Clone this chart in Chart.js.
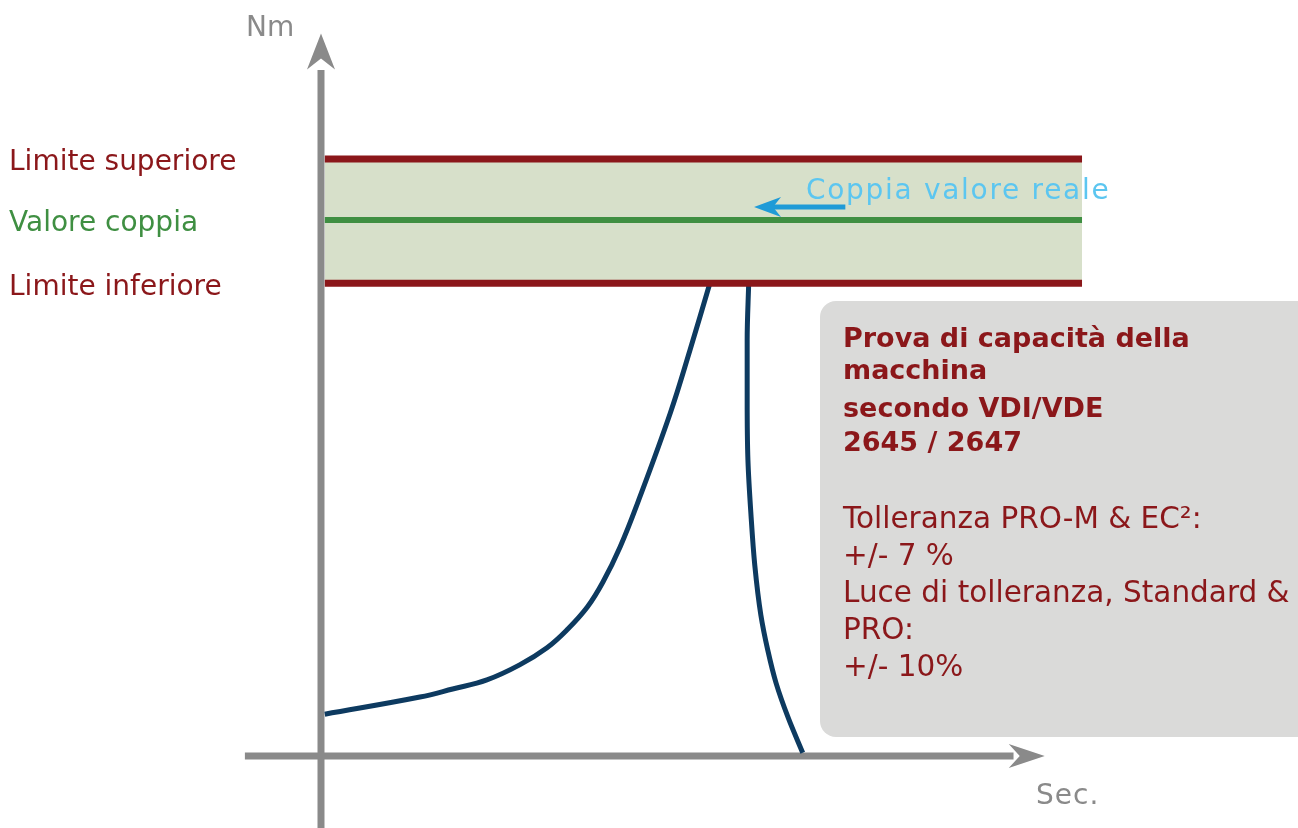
<!DOCTYPE html>
<html>
<head>
<meta charset="utf-8">
<script src="https://cdn.jsdelivr.net/npm/chart.js@4.4.1/dist/chart.umd.min.js"></script>
<style>
  body { margin: 0; background: #ffffff; }
  #wrap { width: 1298px; height: 828px; position: relative; }
</style>
</head>
<body>
<div id="wrap"><canvas id="myChart"></canvas></div>
<script>
// curve: time in sec, torque in Nm
const seconds_up = [0.05, 1.30, 1.73, 2.18, 2.61, 2.97, 3.23, 3.50, 3.71, 3.93, 4.16, 4.59, 4.85, 5.11];
const torque_up  = [7.8, 11.0, 12.5, 14.2, 17.0, 20.2, 23.5, 27.8, 32.6, 39.0, 47.2, 64.0, 75.8, 88.2];
const seconds_down = [5.62, 5.60, 5.60, 5.61, 5.65, 5.70, 5.78, 5.87, 5.98, 6.14, 6.33];
const torque_down  = [88.2, 77.6, 66.4, 55.2, 45.0, 35.6, 26.3, 19.8, 13.6, 7.1, 0.6];

const band_seconds = [0.05, 10];
const upper_limit = 111.4;
const nominal = 100;
const lower_limit = 88.2;

const side_labels = ['Limite superiore', 'Valore coppia', 'Limite inferiore'];
const box_title = ['Prova di capacità della', 'macchina', 'secondo VDI/VDE', '2645 / 2647'];
const box_text = ['Tolleranza PRO-M & EC²:', '+/- 7 %', 'Luce di tolleranza, Standard &', 'PRO:', '+/- 10%'];

const red = '#8b171a';
const green = '#3f8f42';
const grey = '#8a8a8a';
const navy = '#0d3a60';
const font = '"DejaVu Sans", sans-serif';

function pts(xs, ys) {
    let out = [];
    for (let i = 0; i < xs.length; i++) out.push({x: xs[i], y: ys[i]});
    return out;
}

function flat(v) {
    return band_seconds.map(s => ({x: s, y: v}));
}

function arrow(ctx, pts_, color) {
    ctx.beginPath();
    ctx.moveTo(pts_[0][0], pts_[0][1]);
    for (let i = 1; i < pts_.length; i++) ctx.lineTo(pts_[i][0], pts_[i][1]);
    ctx.closePath();
    ctx.fillStyle = color;
    ctx.fill();
}

const decor = {
    id: 'decor',
    beforeDatasetsDraw(chart) {
        const ctx = chart.ctx;
        const x = chart.scales.x, y = chart.scales.y;
        const x0 = x.getPixelForValue(0), y0 = y.getPixelForValue(0);
        ctx.save();
        // grey info box
        ctx.fillStyle = '#dadad9';
        ctx.beginPath();
        ctx.roundRect(820, 301, 520, 436, 16);
        ctx.fill();
        // axes
        ctx.strokeStyle = grey;
        ctx.lineWidth = 7;
        ctx.beginPath();
        ctx.moveTo(x0, chart.height);
        ctx.lineTo(x0, y.getPixelForValue(128));
        ctx.moveTo(x.getPixelForValue(-1), y0);
        ctx.lineTo(x.getPixelForValue(9.1), y0);
        ctx.stroke();
        const ty = y.getPixelForValue(134.8);
        arrow(ctx, [[x0, ty], [x0 + 14, ty + 36], [x0, ty + 25], [x0 - 14, ty + 36]], grey);
        const tx = x.getPixelForValue(9.51);
        arrow(ctx, [[tx, y0], [tx - 36, y0 - 12], [tx - 25, y0], [tx - 36, y0 + 12]], grey);
        ctx.restore();
    },
    afterDraw(chart) {
        const ctx = chart.ctx;
        const x = chart.scales.x, y = chart.scales.y;
        ctx.save();
        ctx.textBaseline = 'middle';
        ctx.textAlign = 'left';
        ctx.font = '28px ' + font;
        ctx.fillStyle = grey;
        ctx.fillText('Nm', 246, 29);
        ctx.letterSpacing = '1px';
        ctx.fillText('Sec.', 1036, 797);
        ctx.letterSpacing = '0px';

        const vals = [upper_limit, nominal, lower_limit];
        const cols = [red, green, red];
        for (let i = 0; i < side_labels.length; i++) {
            ctx.fillStyle = cols[i];
            ctx.fillText(side_labels[i], 9, y.getPixelForValue(vals[i]) + 4);
        }

        // real value marker
        const ay = y.getPixelForValue(102.4);
        ctx.strokeStyle = '#1f9bd7';
        ctx.lineWidth = 5;
        ctx.beginPath();
        ctx.moveTo(x.getPixelForValue(6.89), ay);
        ctx.lineTo(x.getPixelForValue(5.9), ay);
        ctx.stroke();
        const ax = x.getPixelForValue(5.69);
        arrow(ctx, [[ax, ay], [ax + 27, ay - 10], [ax + 19, ay], [ax + 27, ay + 10]], '#1f9bd7');
        ctx.fillStyle = '#5cc6f0';
        ctx.letterSpacing = '1.7px';
        ctx.fillText('Coppia valore reale', 806, 192);
        ctx.letterSpacing = '0px';

        // box text
        ctx.fillStyle = red;
        ctx.font = 'bold 27px ' + font;
        const title_y = [340, 372, 410, 444];
        box_title.forEach((t, i) => ctx.fillText(t, 843, title_y[i]));
        ctx.font = '29.5px ' + font;
        box_text.forEach((t, i) => ctx.fillText(t, 843, 520 + i * 37));
        ctx.restore();
    }
};

new Chart(document.getElementById('myChart').getContext('2d'), {
    type: 'line',
    data: {
        datasets: [
            {
                data: pts(seconds_up, torque_up),
                borderColor: navy,
                borderWidth: 5,
                pointRadius: 0,
                tension: 0.4,
                fill: false,
                order: 3
            },
            {
                data: pts(seconds_down, torque_down),
                indexAxis: 'y',
                borderColor: navy,
                borderWidth: 5,
                pointRadius: 0,
                cubicInterpolationMode: 'monotone',
                fill: false,
                order: 3
            },
            {
                data: flat(upper_limit),
                borderColor: red,
                borderWidth: 7,
                borderCapStyle: 'butt',
                pointRadius: 0,
                fill: '+1',
                backgroundColor: '#d7e0ca',
                order: 1
            },
            {
                data: flat(lower_limit),
                borderColor: red,
                borderWidth: 7,
                borderCapStyle: 'butt',
                pointRadius: 0,
                fill: false,
                order: 1
            },
            {
                data: flat(nominal),
                borderColor: green,
                borderWidth: 6,
                borderCapStyle: 'butt',
                pointRadius: 0,
                fill: false,
                order: 0
            }
        ]
    },
    options: {
        responsive: true,
        maintainAspectRatio: false,
        animation: false,
        layout: { padding: 0 },
        plugins: {
            legend: { display: false },
            tooltip: { enabled: false },
            filler: { drawTime: 'beforeDatasetsDraw' }
        },
        scales: {
            x: { type: 'linear', min: -4.218, max: 12.838, display: false },
            y: { type: 'linear', min: -13.43, max: 141.04, display: false }
        }
    },
    plugins: [decor]
});
</script>
</body>
</html>
